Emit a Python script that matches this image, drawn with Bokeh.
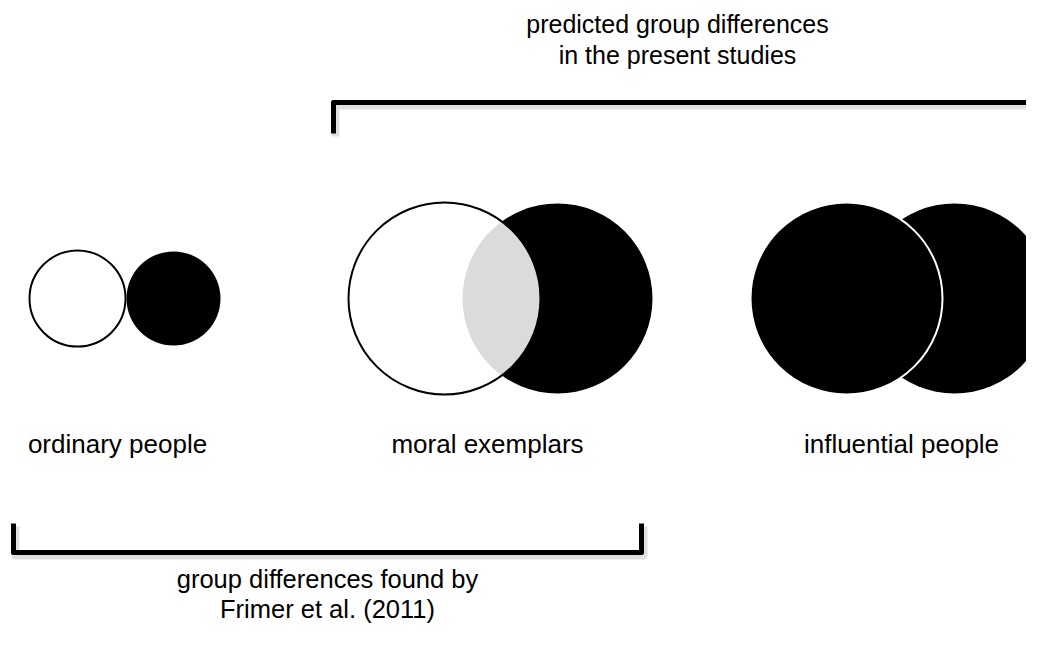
from bokeh.plotting import figure
from bokeh.models import Range1d
from bokeh.embed import file_html
from bokeh.resources import INLINE
from bokeh.core.properties import value

# ---- data ----
groups = ["ordinary people", "moral exemplars", "influential people"]
left_x = [77, 444, 846]
right_x = [173, 557, 954]
left_r = [48, 96, 96]
right_r = [47, 95, 95]
left_fill = ["white", "white", "black"]
left_alpha = [1.0, 0.86, 1.0]
left_line = ["black", "black", "white"]
right_fill = ["black", "black", "black"]
top_text = ["predicted group differences", "in the present studies"]
bottom_text = ["group differences found by", "Frimer et al. (2011)"]

FONT = value("Liberation Sans")
CY = 298

p = figure(width=1026, height=630, output_backend="svg", toolbar_location=None,
           x_range=Range1d(0, 1026), y_range=Range1d(630, 0), min_border=0)
p.axis.visible = False
p.grid.visible = False
p.outline_line_color = None
p.background_fill_color = "white"
p.border_fill_color = "white"

# right circles (behind)
p.circle(x=right_x, y=[CY] * 3, radius=right_r, fill_color=right_fill,
         line_color=None)
# left circles (front)
p.circle(x=left_x, y=[CY] * 3, radius=left_r, fill_color=left_fill,
         fill_alpha=left_alpha, line_color=left_line, line_width=2)

# group labels
p.text(x=[117, 487, 901], y=[443] * 3, text=groups,
       text_font=FONT, text_font_size="26px", text_align="center",
       text_baseline="alphabetic", text_color="black")

# brackets (shadow then line)
top_br_x = [333, 333, 1041, 1041]
top_br_y = [133, 102, 102, 133]
bot_br_x = [13, 13, 641, 641]
bot_br_y = [523, 552, 552, 523]
for bx, by in [(top_br_x, top_br_y), (bot_br_x, bot_br_y)]:
    p.line([v + 2 for v in bx], [v + 3 for v in by], line_color="black",
           line_alpha=0.12, line_width=8, line_join="round")
    p.line(bx, by, line_color="black", line_width=5, line_join="round")

p.text(x=[677] * 2, y=[23, 54], text=top_text, text_font=FONT,
       text_font_size="25px", text_align="center", text_baseline="alphabetic",
       text_color="black")
p.text(x=[327] * 2, y=[578, 608], text=bottom_text, text_font=FONT,
       text_font_size="25.5px", text_align="center", text_baseline="alphabetic",
       text_color="black")

open("out.html", "w").write(file_html(p, INLINE))
